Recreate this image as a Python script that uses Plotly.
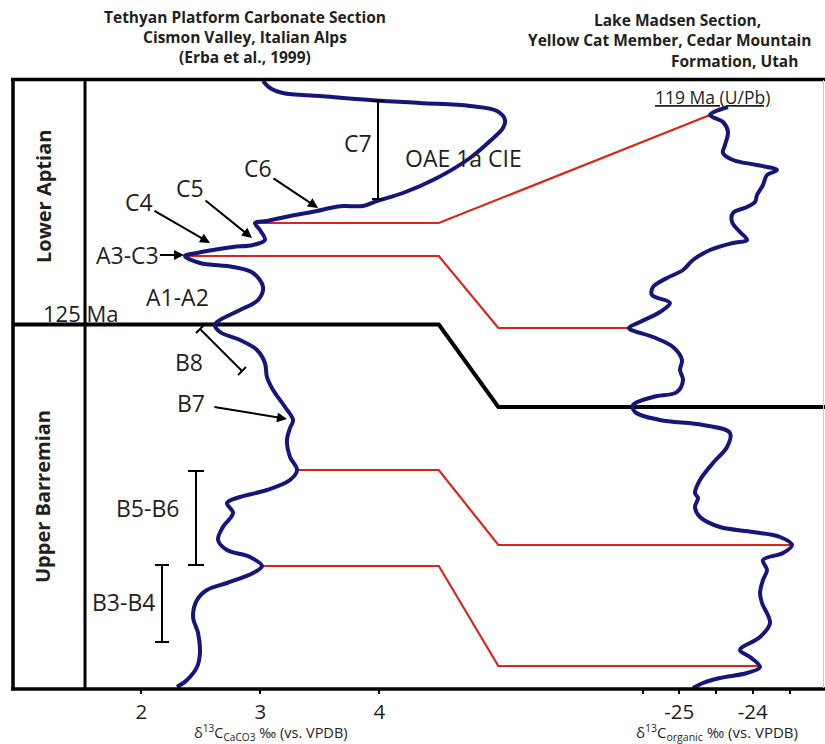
import plotly.graph_objects as go

# ---------------- data ----------------
# Cismon Valley carbonate d13C curve (per mil) vs. relative stratigraphic level
carb_d13c = [3.023, 3.082, 3.191, 3.502, 3.922, 4.342, 4.762, 4.989, 5.056, 5.039,
             4.930, 4.762, 4.485, 4.199, 3.981, 3.863, 3.695, 3.586, 3.476, 3.250,
             3.056, 2.955, 2.997, 3.039, 2.939, 2.771, 2.603, 2.468, 2.367, 2.493,
             2.771, 2.939, 3.023, 2.981, 2.829, 2.661, 2.619, 2.661, 2.829, 2.972,
             3.039, 3.056, 3.107, 3.208, 3.275, 3.250, 3.224, 3.250, 3.309, 3.250,
             3.056, 2.829, 2.720, 2.771, 2.686, 2.645, 2.720, 2.913, 3.014, 2.939,
             2.720, 2.552, 2.468, 2.435, 2.477, 2.493, 2.468, 2.384, 2.300]
carb_level = [609, 602, 597, 594, 590, 587, 584, 579, 570, 562,
              549, 532, 512, 497, 489, 484, 484, 482, 479, 474,
              469, 467, 460, 450, 445, 443, 440, 437, 434, 427,
              423, 417, 403, 390, 380, 370, 365, 358, 350, 340,
              327, 313, 300, 283, 270, 262, 250, 233, 220, 210,
              200, 193, 187, 177, 163, 150, 140, 133, 124, 117,
              107, 100, 90, 73, 57, 37, 23, 10, 3]

# Lake Madsen organic d13C curve (per mil) vs. relative stratigraphic level
org_d13c = [-24.337, -24.582, -24.405, -24.337, -24.378, -24.405, -24.269, -23.942, -23.670, -23.806,
            -23.861, -23.942, -23.969, -24.078, -24.269, -24.282, -24.173, -24.078, -24.269, -24.582,
            -24.813, -24.949, -25.167, -25.357, -25.371, -25.126, -25.262, -25.534, -25.684, -25.357,
            -25.085, -24.963, -24.990, -24.949, -25.031, -25.357, -25.629, -25.602, -25.262, -24.677,
            -24.310, -24.350, -24.541, -24.718, -24.786, -24.745, -24.786, -24.718, -24.446, -23.997,
            -23.629, -23.466, -23.588, -23.861, -23.806, -23.861, -23.901, -23.874, -23.765, -23.901,
            -24.173, -24.037, -23.901, -24.078, -24.446, -24.677, -24.813]
org_level = [583, 575, 568, 558, 545, 537, 530, 525, 520, 515,
             505, 495, 488, 483, 477, 468, 458, 450, 447, 440,
             430, 420, 412, 403, 395, 387, 378, 368, 362, 353,
             343, 330, 320, 310, 298, 293, 285, 278, 270, 265,
             257, 243, 227, 210, 197, 192, 183, 173, 163, 158,
             153, 145, 137, 130, 120, 110, 97, 87, 67, 53,
             40, 33, 23, 17, 12, 7, 2]

# correlation tie points (red lines)
tie_carb_d13c = [2.955, 2.367, 3.309, 3.014]
tie_carb_level = [467, 434, 220, 124]
tie_org_d13c = [-24.582, -25.684, -23.466, -23.901]
tie_org_level = [575, 362, 145, 24]
tie_bend = [False, True, True, True]

# Barremian/Aptian boundary (125 Ma) level in each section
boundary_carb_level = 365.5
boundary_org_level = 283

carb_ticks = [2, 3, 4]
carb_ticktext = ["2", "3", "4"]
org_ticks = [-25, -24]
org_ticktext = ["-25", "-24"]
org_minor_ticks = [-25.5, -24.5, -23.5]

# ---------------- layout helpers ----------------
W, H = 825, 744
ML, MR, MT, MB = 13, 0, 79, 55
PW, PH = W - ML - MR, H - MT - MB
X1 = [0.922, 7.745]       # carbonate axis range
X2 = [-34.065, -23.017]   # organic axis range
Y = [1, 611]
BEND1, BEND2 = 4.5, 5.0   # corridor x positions (carbonate axis units)

def px(x):
    return (x - ML) / PW

def py(y):
    return (H - MB - y) / PH

def org_to_carb(v):
    return X1[0] + (v - X2[0]) * (X1[1] - X1[0]) / (X2[1] - X2[0])

NAVY = "#16157a"
RED = "#d8261c"
INK = "#231f20"
FONT = "Open Sans"
LAB = 23

fig = go.Figure()

# red correlation lines
for i in range(len(tie_carb_d13c)):
    xs = [tie_carb_d13c[i], BEND1]
    ys = [tie_carb_level[i], tie_carb_level[i]]
    if tie_bend[i]:
        xs.append(BEND2)
        ys.append(tie_org_level[i])
    xs.append(org_to_carb(tie_org_d13c[i]))
    ys.append(tie_org_level[i])
    fig.add_trace(go.Scatter(x=xs, y=ys, mode="lines", xaxis="x", yaxis="y",
                             line=dict(color=RED, width=2.2), hoverinfo="skip",
                             showlegend=False))

# black 125 Ma boundary
fig.add_trace(go.Scatter(x=[X1[0], BEND1, BEND2, X1[1]],
                         y=[boundary_carb_level, boundary_carb_level,
                            boundary_org_level, boundary_org_level],
                         mode="lines", line=dict(color="black", width=4),
                         hoverinfo="skip", showlegend=False))

# curves
fig.add_trace(go.Scatter(x=carb_d13c, y=carb_level, mode="lines", xaxis="x", yaxis="y",
                         line=dict(color=NAVY, width=4, shape="spline", smoothing=1.0),
                         showlegend=False))
fig.add_trace(go.Scatter(x=org_d13c, y=org_level, mode="lines", xaxis="x2", yaxis="y",
                         line=dict(color=NAVY, width=4, shape="spline", smoothing=1.0),
                         showlegend=False))

shapes = []
def seg(x0, y0, x1, y1, w=2.0, c="black"):
    shapes.append(dict(type="line", xref="paper", yref="paper",
                       x0=px(x0), y0=py(y0), x1=px(x1), y1=py(y1),
                       line=dict(color=c, width=w)))

# frame
seg(13, 79, 13, 689, 3.5)
seg(11, 79.5, 825, 79.5, 3.5)
seg(11, 689, 825, 689, 3.5)
seg(85, 79, 85, 689, 3)
seg(823.5, 80, 823.5, 688, 1, "#c8c8c8")

# interval bars
def vbar(x, y0, y1, half):
    seg(x, y0, x, y1, 2)
    seg(x - half, y0, x + half, y0, 2)
    seg(x - half, y1, x + half, y1, 2)

vbar(378, 101, 199, 6)
vbar(196, 471, 565, 8)
vbar(162, 565, 642, 7)
# B8 diagonal bracket
seg(200, 329, 242, 371, 2)
seg(196, 333, 204, 325, 2)
seg(238, 375, 246, 367, 2)

annotations = []
def txt(s, x, y, size=LAB, bold=False, xanchor="center", angle=0, color=INK):
    annotations.append(dict(text=("<b>%s</b>" % s) if bold else s, x=px(x), y=py(y),
                            xref="paper", yref="paper", showarrow=False,
                            xanchor=xanchor, yanchor="middle", textangle=angle,
                            font=dict(size=size, color=color, family=FONT)))

def label_arrow(s, lx, ly, hx, hy, start=0):
    # text centred at (lx, ly), arrow pointing to (hx, hy)
    annotations.append(dict(text=s, x=px(hx), y=py(hy), xref="paper", yref="paper",
                            ax=lx - hx, ay=ly - hy, axref="pixel", ayref="pixel",
                            showarrow=True, arrowhead=2, arrowsize=1, arrowwidth=2,
                            arrowcolor="black", standoff=0, startstandoff=start,
                            font=dict(size=LAB, color=INK, family=FONT)))

# titles
TS = 15.5
txt("Tethyan Platform Carbonate Section<br>Cismon Valley, Italian Alps<br>(Erba et al., 1999)",
    245, 37, TS, True)
txt("Lake Madsen Section,", 677, 20, TS, True)
txt("Yellow Cat Member, Cedar Mountain", 526, 40.5, TS, True, xanchor="left")
txt("Formation, Utah", 734, 61, TS, True)

# axis titles
txt("δ<sup>13</sup>C<sub>CaCO3</sub> ‰ (vs. VPDB)", 271, 732, 14.5)
txt("δ<sup>13</sup>C<sub>organic</sub> ‰ (vs. VPDB)", 717, 732, 15)

# stage labels
txt("Lower Aptian", 43, 197, 20, True, angle=-90)
txt("Upper Barremian", 43, 497, 20, True, angle=-90)
txt("125 Ma", 80, 313, 22)

# chemostratigraphic segments
txt("A1-A2", 177, 297)
label_arrow("A3-C3", 127, 255, 184, 255)
label_arrow("C4", 139, 202, 210, 243)
label_arrow("C5", 190, 188, 252, 238)
label_arrow("C6", 258, 168, 318, 208)
txt("C7", 358, 143)
txt("OAE 1a CIE", 403, 158, xanchor="left")
txt("B8", 189, 362)
label_arrow("B7", 191, 403, 287, 419, start=8)
txt("B5-B6", 147, 508)
txt("B3-B4", 123, 602)
txt("<u>119 Ma (U/Pb)</u>", 712, 97, 17.5)

axis_common = dict(showgrid=False, zeroline=False, showline=False, ticks="outside",
                   ticklen=4, tickwidth=2, tickcolor="black",
                   tickfont=dict(size=20.5, color=INK, family=FONT), fixedrange=True)

fig.update_layout(
    width=W, height=H,
    margin=dict(l=ML, r=MR, t=MT, b=MB),
    paper_bgcolor="white", plot_bgcolor="white",
    xaxis=dict(range=X1, tickvals=carb_ticks, ticktext=carb_ticktext, **axis_common),
    xaxis2=dict(range=X2, tickvals=org_ticks, ticktext=org_ticktext, overlaying="x",
                side="bottom", anchor="y",
                minor=dict(tickvals=org_minor_ticks, ticks="outside", ticklen=4,
                           tickwidth=2, tickcolor="black", showgrid=False),
                **axis_common),
    yaxis=dict(range=Y, visible=False, fixedrange=True),
    shapes=shapes,
    annotations=annotations,
    showlegend=False,
)

fig.write_html("out.html", config={"displayModeBar": False},
               post_script="document.body.style.margin='0px';document.body.style.overflow='hidden';")
